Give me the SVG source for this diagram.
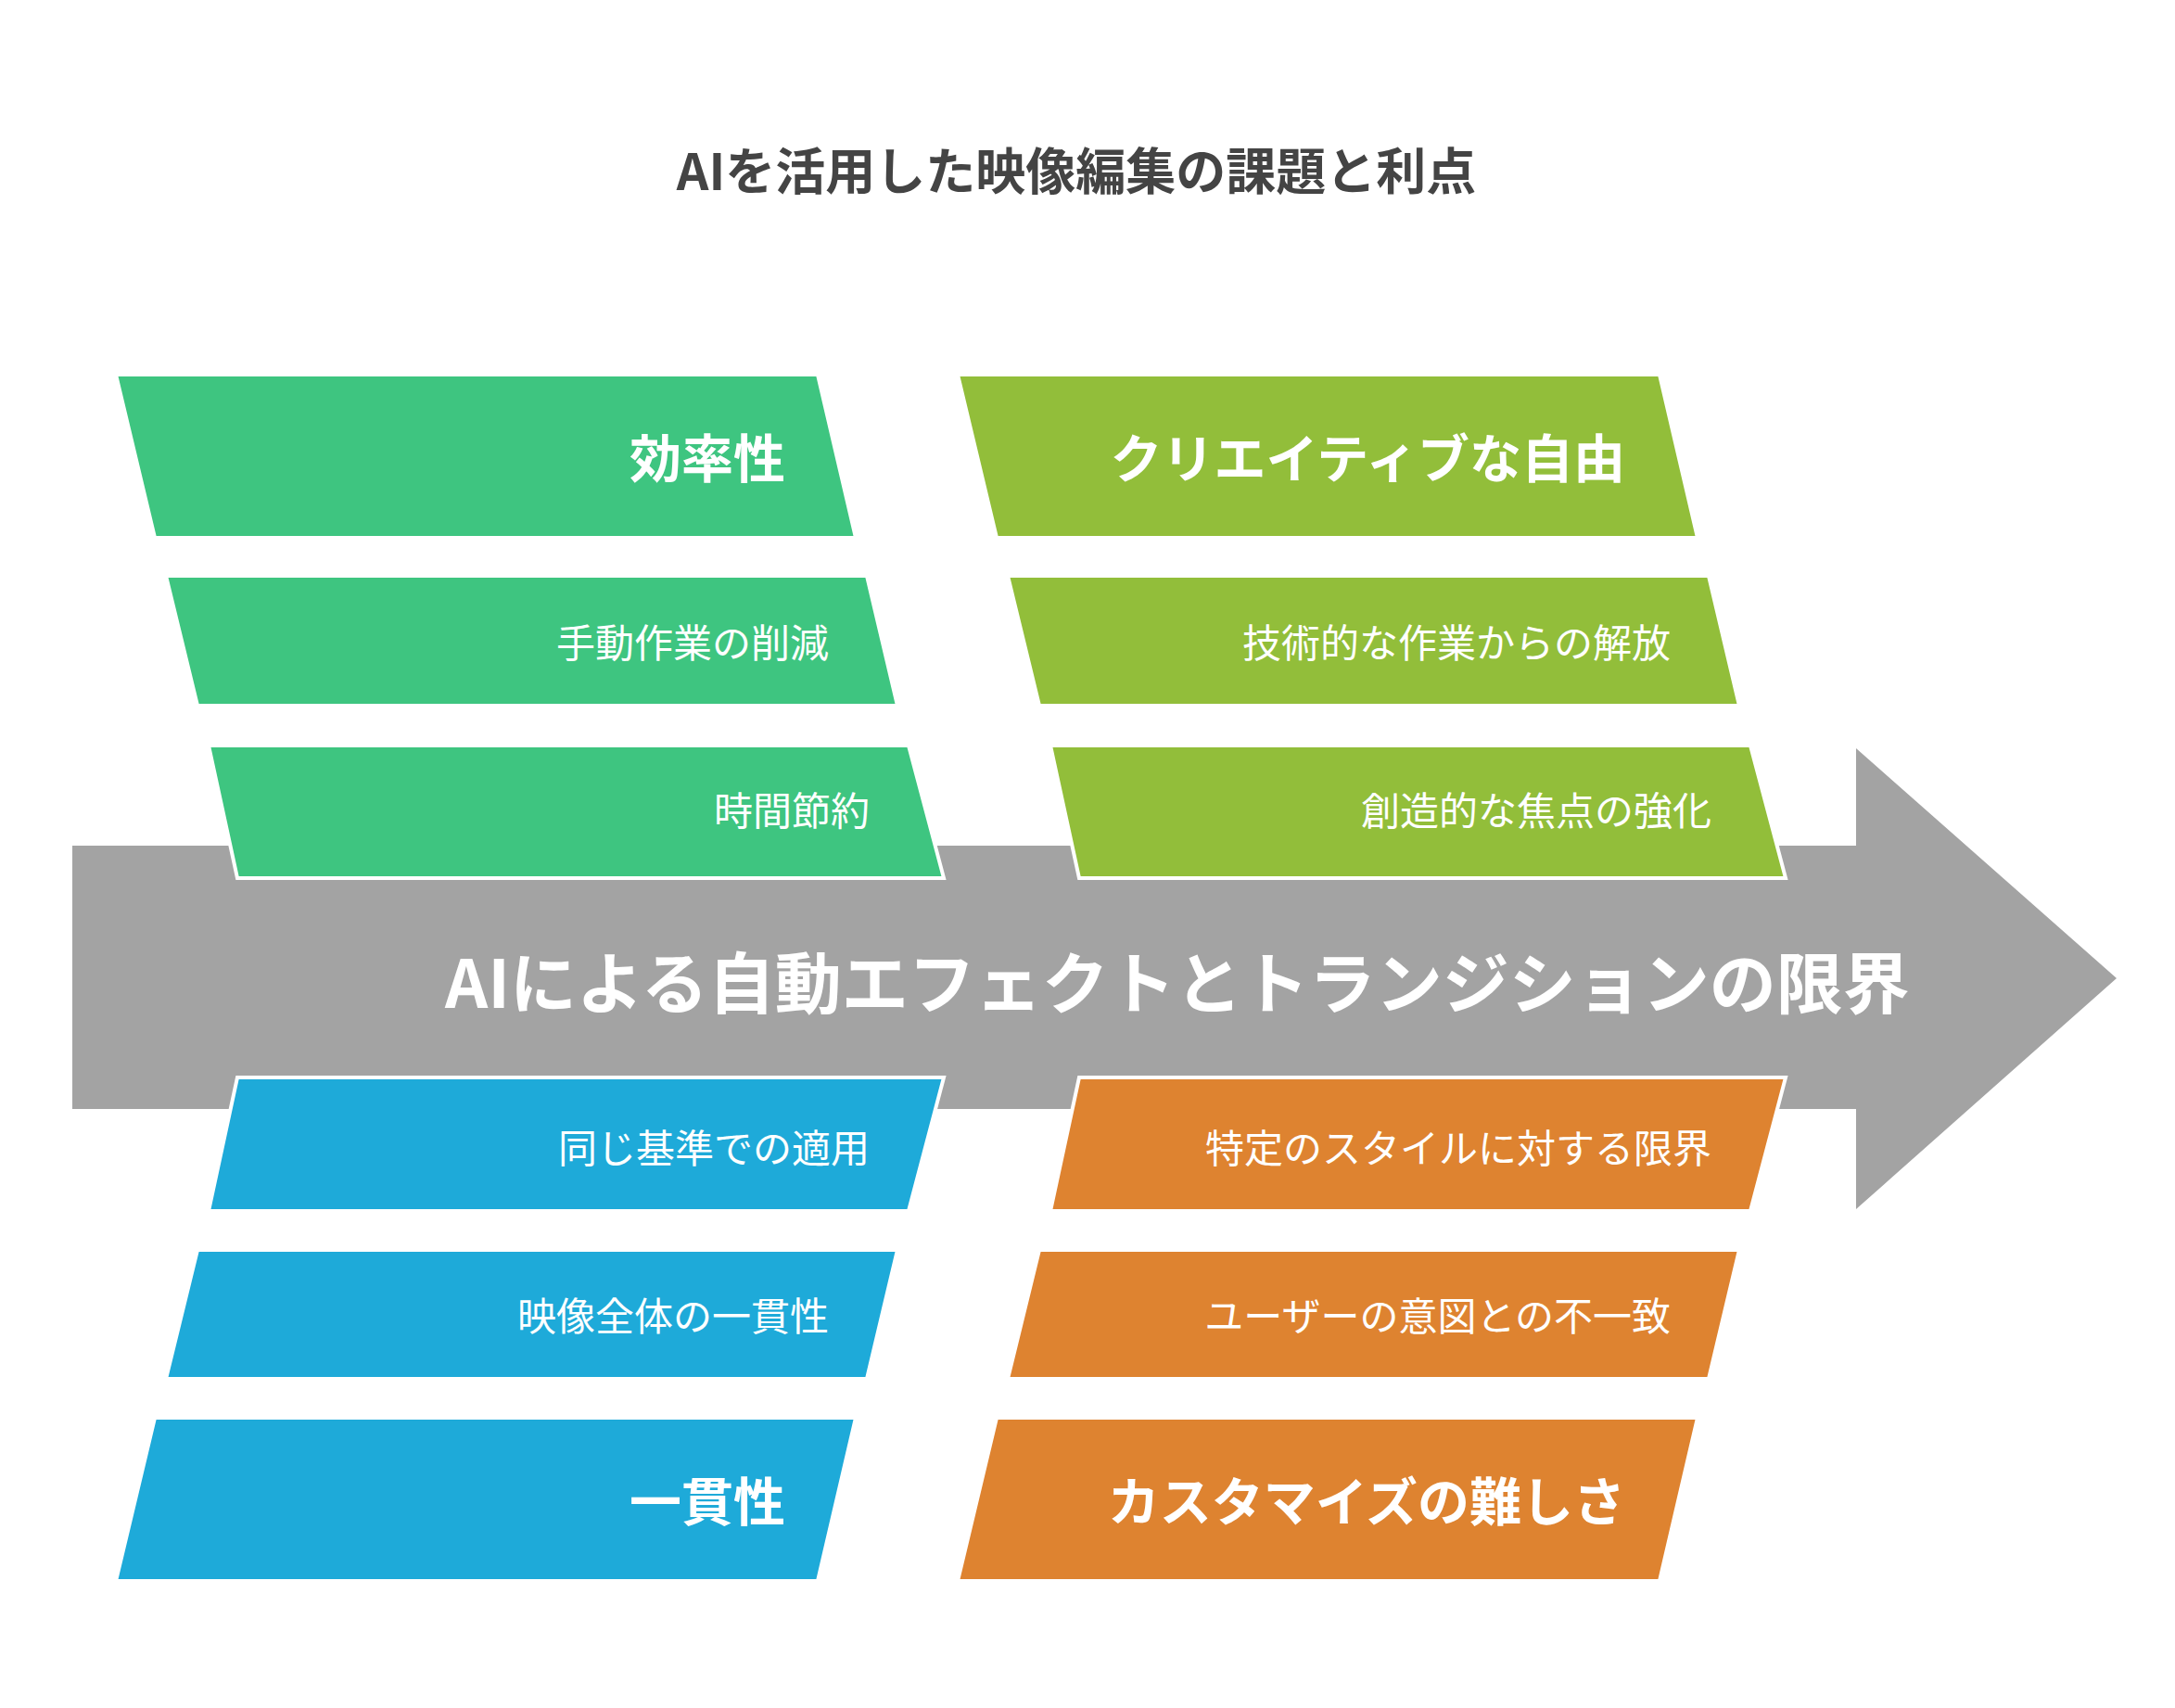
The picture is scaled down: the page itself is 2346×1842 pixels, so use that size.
<svg xmlns="http://www.w3.org/2000/svg" width="2346" height="1842" viewBox="0 0 2346 1842">
<style>
text{font-family:"Noto Sans CJK JP","Noto Sans",sans-serif;fill:#fff;text-anchor:end;dominant-baseline:central}
.h{font-size:56px;font-weight:bold}
.i{font-size:42px}
.p{stroke:#fff;stroke-width:4}
.g{fill:#3EC580}.o{fill:#92BE3A}.b{fill:#1EAAD9}.r{fill:#DE8330}
</style>
<rect width="2346" height="1842" fill="#fff"/>
<text x="1161" y="181" style="font-size:54px;font-weight:bold;fill:#444;text-anchor:middle">AIを活用した映像編集の課題と利点</text>
<g id="spine"><path d="M78 912H2002V807L2283 1055L2002 1304V1196H78Z" fill="#A3A3A3"/>
<text x="1270" y="1055" style="font-size:72px;font-weight:bold;text-anchor:middle">AIによる自動エフェクトとトランジションの限界</text></g>
<g id="n1"><path class="p g" d="M125 404H882L923 580H167Z"/><text class="h" x="847" y="490">効率性</text></g>
<g id="n2"><path class="p g" d="M179 621H935L968 761H213Z"/><text class="i" x="894" y="690">手動作業の削減</text></g>
<g id="n3"><path class="p g" d="M225 804H980L1018 947H256Z"/><text class="i" x="938" y="871">時間節約</text></g>
<g id="n4"><path class="p o" d="M1033 404H1790L1831 580H1075Z"/><text class="h" x="1753" y="490">クリエイティブな自由</text></g>
<g id="n5"><path class="p o" d="M1087 621H1843L1876 761H1121Z"/><text class="i" x="1802" y="690">技術的な作業からの解放</text></g>
<g id="n6"><path class="p o" d="M1133 804H1888L1926 947H1164Z"/><text class="i" x="1846" y="871">創造的な焦点の強化</text></g>
<g id="n7"><path class="p b" d="M256 1162H1018L980 1306H225Z"/><text class="i" x="938" y="1235">同じ基準での適用</text></g>
<g id="n8"><path class="p b" d="M213 1348H968L935 1487H179Z"/><text class="i" x="894" y="1416">映像全体の一貫性</text></g>
<g id="n9"><path class="p b" d="M167 1529H923L882 1705H125Z"/><text class="h" x="847" y="1615">一貫性</text></g>
<g id="n10"><path class="p r" d="M1164 1162H1926L1888 1306H1133Z"/><text class="i" x="1846" y="1235">特定のスタイルに対する限界</text></g>
<g id="n11"><path class="p r" d="M1121 1348H1876L1843 1487H1087Z"/><text class="i" x="1802" y="1416">ユーザーの意図との不一致</text></g>
<g id="n12"><path class="p r" d="M1075 1529H1831L1790 1705H1033Z"/><text class="h" x="1753" y="1615">カスタマイズの難しさ</text></g>
<g id="connectors"/>
</svg>
